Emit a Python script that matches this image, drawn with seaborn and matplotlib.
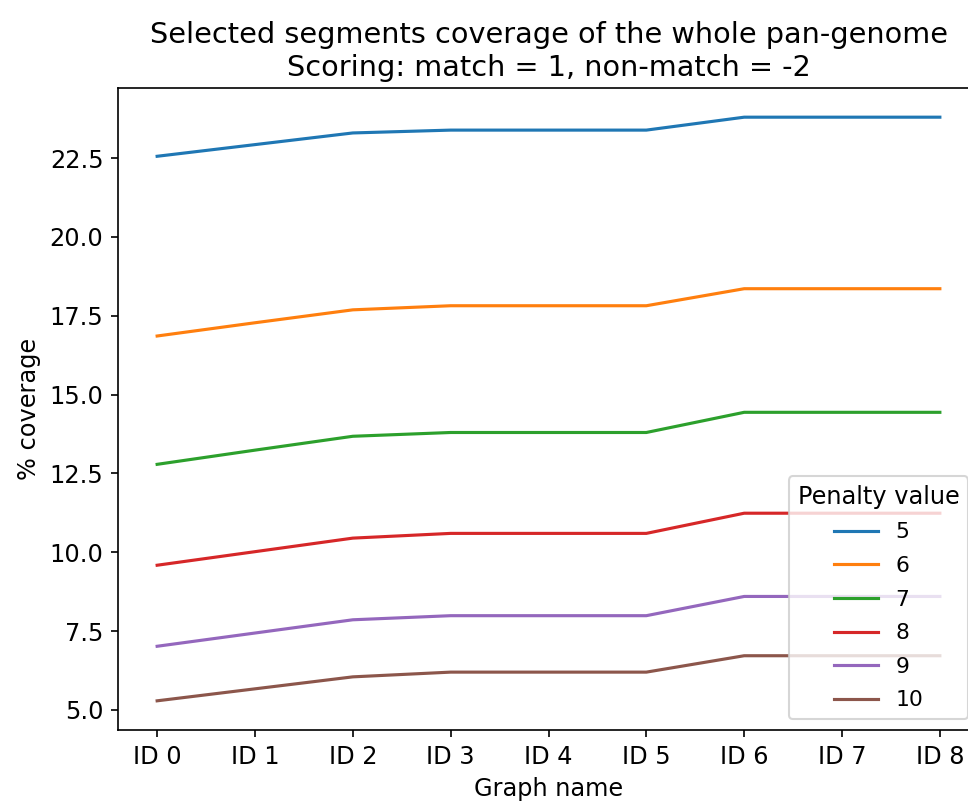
import seaborn as sns
import pandas as pd
import matplotlib.pyplot as plt

###################
# Data
graph_names = ["ID 0", "ID 1", "ID 2", "ID 3", "ID 4", "ID 5", "ID 6", "ID 7", "ID 8"]
penalties = ["5", "6", "7", "8", "9", "10"]

cov_5 = [22.56, 22.93, 23.30, 23.39, 23.39, 23.39, 23.80, 23.80, 23.80]
cov_6 = [16.86, 17.28, 17.69, 17.82, 17.82, 17.82, 18.36, 18.36, 18.36]
cov_7 = [12.79, 13.24, 13.68, 13.80, 13.80, 13.80, 14.44, 14.44, 14.44]
cov_8 = [9.59, 10.02, 10.45, 10.60, 10.60, 10.60, 11.24, 11.24, 11.24]
cov_9 = [7.02, 7.44, 7.86, 7.99, 7.99, 7.99, 8.60, 8.60, 8.60]
cov_10 = [5.29, 5.67, 6.05, 6.20, 6.20, 6.20, 6.72, 6.72, 6.72]

series = [cov_5, cov_6, cov_7, cov_8, cov_9, cov_10]
rows = []
for pen, vals in zip(penalties, series):
    for name, v in zip(graph_names, vals):
        rows.append({"Graph name": name, "% coverage": v, "Penalty value": pen})
data = pd.DataFrame(rows)

###################
# Plot
plt.rcParams["font.size"] = 11.5
fig = plt.figure(figsize=(968 / 150, 803 / 150), dpi=150)
ax = fig.add_axes([118 / 968, 73 / 803, 861 / 968, 642 / 803])

sns.lineplot(data, ax=ax, x="Graph name", y="% coverage", hue="Penalty value",
             hue_order=penalties, palette="tab10")
ax.set_title("Selected segments coverage of the whole pan-genome\nScoring: match = 1, non-match = -2",
             fontsize=13.8)
ax.tick_params(labelsize=11.5)
ax.legend(title="Penalty value", loc="lower right", fontsize=10.5, title_fontsize=11.5,
          labelspacing=0.62)

fig.savefig("out.png", dpi=150)
